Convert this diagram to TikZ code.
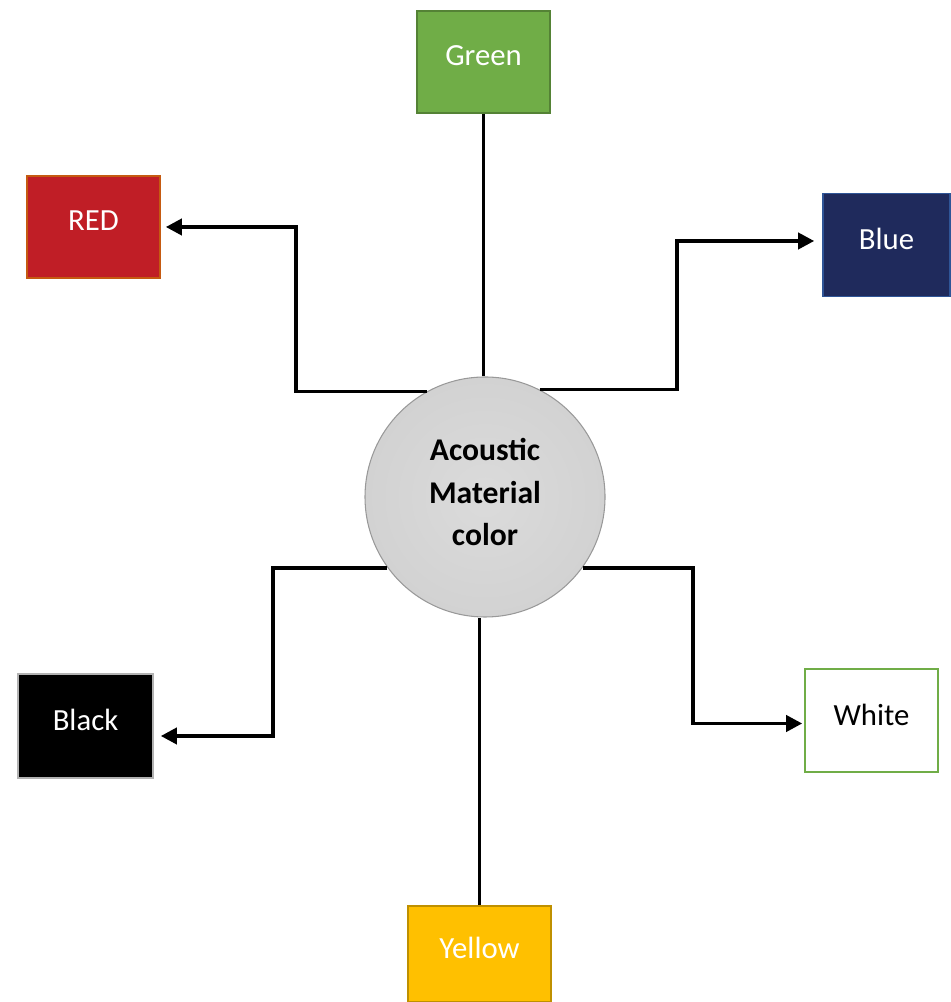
\documentclass[tikz,border=0pt]{standalone}
\usepackage{fontspec}
\setmainfont{Carlito}
\usetikzlibrary{arrows.meta,calc}

\definecolor{boxgreen}{RGB}{112,173,71}
\definecolor{boxgreenline}{RGB}{84,130,53}
\definecolor{boxred}{RGB}{192,30,38}
\definecolor{boxredline}{RGB}{197,90,17}
\definecolor{boxblue}{RGB}{31,42,92}
\definecolor{boxblueline}{RGB}{47,85,151}
\definecolor{boxyellow}{RGB}{255,192,0}
\definecolor{boxyellowline}{RGB}{191,144,0}
\definecolor{hubgray}{RGB}{210,210,210}

\begin{document}
\begin{tikzpicture}[
    swatch/.style={rectangle, draw, line width=0.9pt, minimum width=2.66cm,
        minimum height=2.04cm, text depth=0.24cm,
        font=\fontsize{17.5}{21}\selectfont},
    link/.style={line width=2.1pt, black},
    linkarrow/.style={link, -{Triangle[length=0.32cm,width=0.32cm]}}
]

    % ============================================================
    % CANVAS
    % ============================================================
    \useasboundingbox (0,0) rectangle (19,20.04);

    % ============================================================
    % CENTRAL HUB
    % ============================================================
    \node[circle, draw=gray!80, line width=0.6pt, inner color=hubgray!80,
        outer color=hubgray, minimum size=4.8cm, align=center,
        text depth=0.2cm,
        font=\fontsize{18}{24}\selectfont\bfseries] (hub) at (9.70,10.10)
        {Acoustic\\Material\\color};

    % ============================================================
    % COLOUR SWATCHES
    % ============================================================
    \node[swatch, fill=boxgreen, draw=boxgreenline, text=white]
        (green) at (9.67,18.80) {Green};
    \node[swatch, fill=boxred, draw=boxredline, text=white]
        (red) at (1.87,15.50) {RED};
    \node[swatch, fill=boxblue, draw=boxblueline, text=white,
        minimum width=2.54cm, minimum height=2.06cm]
        (blue) at (17.73,15.14) {Blue};
    \node[swatch, fill=black, draw=gray!60, text=white,
        minimum width=2.70cm, minimum height=2.08cm]
        (black) at (1.71,5.52) {Black};
    \node[swatch, fill=white, draw=boxgreen, text=black,
        minimum height=2.06cm]
        (white) at (17.43,5.63) {White};
    \node[swatch, fill=boxyellow, draw=boxyellowline, text=white,
        minimum width=2.86cm, minimum height=1.92cm]
        (yellow) at (9.59,0.96) {Yellow};

    % ============================================================
    % STRAIGHT LINKS (TOP AND BOTTOM)
    % ============================================================
    \draw[link] (green.south) -- (green.south |- hub.north);
    \draw[link] (yellow.north) -- (yellow.north |- hub.south);

    % ============================================================
    % ELBOW ARROWS
    % ============================================================
    \draw[linkarrow] (hub.119) -| ([xshift=2.7cm]red.east)
        -- ([xshift=0.1cm]red.east);
    \draw[linkarrow] (hub.63) -| ([xshift=-2.9cm,yshift=0.08cm]blue.west)
        -- ([xshift=-0.16cm,yshift=0.08cm]blue.west);
    \draw[linkarrow] (hub.216) -| ([xshift=2.38cm,yshift=-0.2cm]black.east)
        -- ([xshift=0.14cm,yshift=-0.2cm]black.east);
    \draw[linkarrow] (hub.324) -| ([xshift=-2.22cm,yshift=-0.06cm]white.west)
        -- ([xshift=-0.04cm,yshift=-0.06cm]white.west);

\end{tikzpicture}
\end{document}
